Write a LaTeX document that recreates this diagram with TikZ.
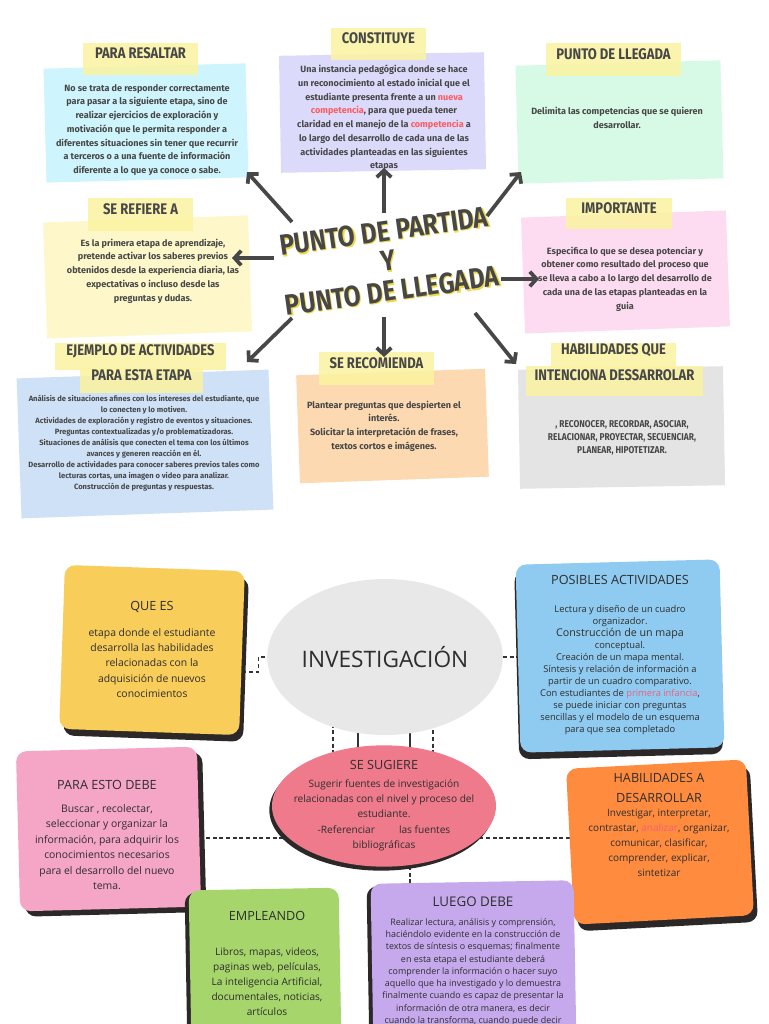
\documentclass[tikz,border=0pt]{standalone}
\usepackage{fontspec}
\setmainfont{Open Sans}
\newfontfamily\notefont{Fira Sans}
\newfontfamily\headfont[FakeStretch=0.85]{Fira Sans}
\usetikzlibrary{arrows.meta,fit,shadows,shapes.geometric}

\definecolor{ink}{HTML}{474747}
\definecolor{bodyink}{HTML}{2E2E2E}
\definecolor{hotred}{HTML}{FF5A5F}
\definecolor{softred}{HTML}{F2607A}
\definecolor{tagyellow}{HTML}{FBF3A0}
\definecolor{titleglow}{HTML}{EDD94A}
\definecolor{resaltcol}{HTML}{CEF5FD}
\definecolor{constcol}{HTML}{DCDAFB}
\definecolor{llegacol}{HTML}{D7FAE6}
\definecolor{refierecol}{HTML}{FDF7CA}
\definecolor{importcol}{HTML}{FDDCF2}
\definecolor{ejemplocol}{HTML}{CEE1F7}
\definecolor{recomcol}{HTML}{FCD9B0}
\definecolor{habilcol}{HTML}{E4E4E4}
\definecolor{queescol}{HTML}{F9CD5A}
\definecolor{posibcol}{HTML}{8FCAF0}
\definecolor{debecol}{HTML}{F5A5C6}
\definecolor{desarrcol}{HTML}{FF8B3E}
\definecolor{emplecol}{HTML}{A6D56B}
\definecolor{luegocol}{HTML}{C5A9EC}
\definecolor{sugcol}{HTML}{EE7A8C}
\definecolor{invcol}{HTML}{E8E8E8}
\definecolor{shadowcol}{HTML}{2C2828}
\definecolor{linkcol}{HTML}{333333}

\newcommand{\redword}[1]{\textcolor{hotred}{#1}}
\newcommand{\pinkword}[1]{\textcolor{softred}{#1}}

\pgfdeclarelayer{bg}
\pgfsetlayers{bg,main}

\tikzset{
  card/.style={fill=#1, inner sep=0pt},
  tag/.style={fill=tagyellow, fill opacity=0.85, text opacity=1, inner sep=0pt,
    text=ink, font=\headfont\bfseries\fontsize{11.5}{13}\selectfont},
  note/.style={text=ink, align=center, inner sep=0pt,
    font=\notefont\bfseries\fontsize{6.8}{10.3}\selectfont},
  title/.style={rotate=8, align=center, inner sep=0pt, text=ink,
    font=\headfont\bfseries\fontsize{21.7}{22.5}\selectfont},
  spoke/.style={draw=ink, line width=2.8pt, -{Straight Barb[length=5pt,width=11pt]}},
  blob/.style={fill=#1, rounded corners=8pt, inner sep=0pt},
  dark shadow/.style 2 args={drop shadow={shadow xshift=#1, shadow yshift=#2, fill=shadowcol, opacity=1}},
  btitle/.style={text=bodyink, inner sep=0pt, align=center, font=\fontsize{9.5}{11}\selectfont},
  btext/.style={text=bodyink, align=center, inner sep=0pt, font=\fontsize{7.8}{11.4}\selectfont},
  link/.style={draw=linkcol, line width=0.8pt, dash pattern=on 3pt off 2pt},
}

\begin{document}
\begin{tikzpicture}[x=0.75pt,y=-0.75pt]

\useasboundingbox (0,0) rectangle (768,1024);
\begin{pgfonlayer}{bg}
\fill[white] (0,0) rectangle (768,1024);
\end{pgfonlayer}

% punto de partida y punto de llegada
\node[card=resaltcol, fit={(45,66) (247,180)}, rotate fit=1.5] (resaltar) {};
\node[card=constcol, fit={(280,54) (485,171)}, rotate fit=1] (constituye) {};
\node[card=llegacol, fit={(517,63) (722,181)}, rotate fit=1.5] (llegada) {};
\node[card=refierecol, fit={(45,219) (250,335)}, rotate fit=2] (refiere) {};
\node[card=importcol, fit={(523,214) (728,330)}, rotate fit=2] (importante) {};
\node[card=ejemplocol, fit={(19,374) (271,514)}, rotate fit=2] (ejemplo) {};
\node[card=recomcol, fit={(298,372) (487,480)}, rotate fit=2] (recomienda) {};
\node[card=habilcol, fit={(519,368) (724,487)}, rotate fit=1] (habilidades) {};

\node[tag, fit={(83,43) (198,75)}] (tag-resaltar) {PARA RESALTAR};
\node[tag, fit={(331,28) (426,60)}] (tag-constituye) {CONSTITUYE};
\node[tag, fit={(546,43) (681,76)}] (tag-llegada) {PUNTO DE LLEGADA};
\node[tag, fit={(88,198) (193,231)}] (tag-refiere) {SE REFIERE A};
\node[tag, fit={(566,198) (672,229)}] (tag-importante) {IMPORTANTE};
\node[tag, fit={(55,343) (226,370)}] (tag-ejemplo) {EJEMPLO DE ACTIVIDADES};
\node[tag, fit={(80,368) (203,393)}] (tag-ejemplo2) {PARA ESTA ETAPA};
\node[tag, fit={(319,352) (434,385)}] (tag-recomienda) {SE RECOMIENDA};
\node[tag, fit={(551,343) (676,368)}] (tag-habilidades) {HABILIDADES QUE};
\node[tag, fit={(526,366) (703,396)}] (tag-habilidades2) {INTENCIONA DESSARROLAR};

\node[note] (txt-resaltar) at (147,130) {No se trata de responder correctamente\\
  para pasar a la siguiente etapa, sino de\\realizar ejercicios de exploración y\\
  motivación que le permita responder a\\diferentes situaciones sin tener que recurrir\\
  a terceros o a una fuente de información\\diferente a lo que ya conoce o sabe.};
\node[note] (txt-constituye) at (384,118) {Una instancia pedagógica donde se hace\\
  un reconocimiento al estado inicial que el\\estudiante presenta frente a un \redword{nueva}\\
  \redword{competencia}, para que pueda tener\\claridad en el manejo de la \redword{competencia} a\\
  lo largo del desarrollo de cada una de las\\actividades planteadas en las siguientes\\etapas};
\node[note] (txt-llegada) at (617,118) {Delimita las competencias que se quieren\\desarrollar.};
\node[note] (txt-refiere) at (153,271) {Es la primera etapa de aprendizaje,\\
  pretende activar los saberes previos\\obtenidos desde la experiencia diaria, las\\
  expectativas o incluso desde las\\preguntas y dudas.};
\node[note] (txt-importante) at (625,279) {Especifica lo que se desea potenciar y\\
  obtener como resultado del proceso que\\se lleva a cabo a lo largo del desarrollo de\\
  cada una de las etapas planteadas en la\\guia};
\node[note, font=\notefont\bfseries\fontsize{5.7}{8.3}\selectfont] (txt-ejemplo) at (144,443)
  {Análisis de situaciones afines con los intereses del estudiante, que\\
  lo conecten y lo motiven.\\Actividades de exploración y registro de eventos y situaciones.\\
  Preguntas contextualizadas y/o problematizadoras.\\
  Situaciones de análisis que conecten el tema con los últimos\\
  avances y generen reacción en él.\\
  Desarrollo de actividades para conocer saberes previos tales como\\
  lecturas cortas, una imagen o video para analizar.\\Construcción de preguntas y respuestas.};
\node[note] (txt-recomienda) at (384,426) {Plantear preguntas que despierten el\\interés.\\
  Solicitar la interpretación de frases,\\textos cortos e imágenes.};
\node[note, font=\headfont\bfseries\fontsize{7.4}{10}\selectfont] (txt-habilidades) at (622,438)
  {, RECONOCER, RECORDAR, ASOCIAR,\\RELACIONAR, PROYECTAR, SECUENCIAR,\\PLANEAR, HIPOTETIZAR.};

\node[title, text=titleglow] (title-glow) at (389.2,262.2) {PUNTO DE PARTIDA\\Y\\PUNTO DE LLEGADA};
\node[title] (title) at (388,261) {PUNTO DE PARTIDA\\Y\\PUNTO DE LLEGADA};

\foreach \n/\fx/\fy/\tx/\ty in {resaltar/292/222/247/172, constituye/384/213/384/168,
    llegada/487/216/521/172, refiere/274/258/232/258, importante/501/279/539/279,
    ejemplo/292/318/247/362, recomienda/384/317/384/357, habilidades/475/313/516/364} {
  \coordinate (from-\n) at (\fx,\fy);
  \coordinate (to-\n) at (\tx,\ty);
  \draw[spoke] (from-\n) -- (to-\n);
}

% investigacion
\node[blob=queescol, dark shadow={3pt}{-5pt}, fit={(62,568) (242,732)}, rotate fit=-2] (quees) {};
\node[btitle] (quees-title) at (152,607) {QUE ES};
\node[btext] (quees-text) at (152,663) {etapa donde el estudiante\\desarrolla las habilidades\\
  relacionadas con la\\adquisición de nuevos\\conocimientos};

\node[blob=posibcol, dark shadow={-1pt}{-5pt}, fit={(518,562) (722,750)}, rotate fit=1.5] (posibles) {};
\node[btitle] (posibles-title) at (620,580) {POSIBLES ACTIVIDADES};
\node[btext, font=\fontsize{7}{9}\selectfont] (posibles-text) at (620,670)
  {Lectura y diseño de un cuadro\\organizador.\\\fontsize{8}{10.7}\selectfont
  Construcción de un mapa\\conceptual.\\Creación de un mapa mental.\\
  Síntesis y relación de información a\\partir de un cuadro comparativo.\\
  Con estudiantes de \pinkword{primera infancia},\\se puede iniciar con preguntas\\
  sencillas y el modelo de un esquema\\para que sea completado};

\node[blob=debecol, dark shadow={4pt}{-4pt}, fit={(18,749) (199,909)}, rotate fit=1.5] (debe) {};
\node[btitle] (debe-title) at (107,785) {PARA ESTO DEBE};
\node[btext, font=\fontsize{7.8}{11.6}\selectfont] (debe-text) at (107,847)
  {Buscar , recolectar,\\seleccionar y organizar la\\información, para adquirir los\\
  conocimientos necesarios\\para el desarrollo del nuevo\\tema.};

\node[blob=desarrcol, dark shadow={3pt}{-5pt}, fit={(570,764) (750,920)}, rotate fit=3] (desarrollar) {};
\node[btitle, font=\fontsize{9.5}{15}\selectfont] (desarrollar-title) at (659,788) {HABILIDADES A\\DESARROLLAR};
\node[btext, font=\fontsize{7.5}{11.2}\selectfont] (desarrollar-text) at (659,843)
  {Investigar, interpretar,\\contrastar, \pinkword{analizar}, organizar,\\comunicar, clasificar,\\
  comprender, explicar,\\sintetizar};

\node[blob=emplecol, dark shadow={-3pt}{-2pt}, fit={(190,889) (340,1040)}, rotate fit=1] (empleando) {};
\node[btitle] (empleando-title) at (267,916) {EMPLEANDO};
\node[btext, font=\fontsize{7.6}{11.3}\selectfont] (empleando-text) at (267,982)
  {Libros, mapas, videos,\\paginas web, películas,\\La inteligencia Artificial,\\
  documentales, noticias,\\artículos};

\node[blob=luegocol, dark shadow={-3pt}{-2pt}, fit={(372,882) (575,1045)}, rotate fit=1] (luego) {};
\node[btitle, font=\fontsize{10}{12}\selectfont] (luego-title) at (473,902) {LUEGO DEBE};
\node[btext, font=\fontsize{6.7}{9.2}\selectfont] (luego-text) at (473,972)
  {Realizar lectura, análisis y comprensión,\\haciéndolo evidente en la construcción de\\
  textos de síntesis o esquemas; finalmente\\en esta etapa el estudiante deberá\\
  comprender la información o hacer suyo\\aquello que ha investigado y lo demuestra\\
  finalmente cuando es capaz de presentar la\\información de otra manera, es decir\\
  cuando la transforma, cuando puede decir};

\node[ellipse, fill=invcol, minimum width=157pt, minimum height=117pt, inner sep=0pt,
  text=bodyink, font=\fontsize{17}{20}\selectfont] (inv) at (385,657) {INVESTIGACIÓN};

\node[ellipse, fill=sugcol, dark shadow={-2pt}{-3pt}, minimum width=168pt, minimum height=91pt,
  inner sep=0pt] (sugiere) at (384,806) {};
\node[btitle] (sugiere-title) at (384,765) {SE SUGIERE};
\node[btext, font=\fontsize{7.6}{11.5}\selectfont] (sugiere-text) at (384,815)
  {Sugerir fuentes de investigación\\relacionadas con el nivel y proceso del\\estudiante.\\
  -Referenciar\hspace{18pt}las fuentes\\bibliográficas};

\begin{pgfonlayer}{bg}
\draw[link] (quees.east |- 0,672) -- ++(16,0) |- (inv.west);
\draw[link] (inv.east) -- (posibles.west |- inv.east);
\draw[link] (inv.center -| 333,0) -- (sugiere.center -| 333,0);
\draw[link] (inv.center -| 433,0) -- (sugiere.center -| 433,0);
\draw[draw=linkcol, line width=0.8pt] (inv.center -| 358,0) -- (sugiere.center -| 358,0);
\draw[draw=linkcol, line width=0.8pt] (inv.center -| 410,0) -- (sugiere.center -| 410,0);
\draw[link] (debe.east |- 0,838) -- (desarrollar.west |- 0,838);
\draw[link] (sugiere.center -| 410,0) -- (luego.center -| 410,0);
\end{pgfonlayer}

\end{tikzpicture}
\end{document}
